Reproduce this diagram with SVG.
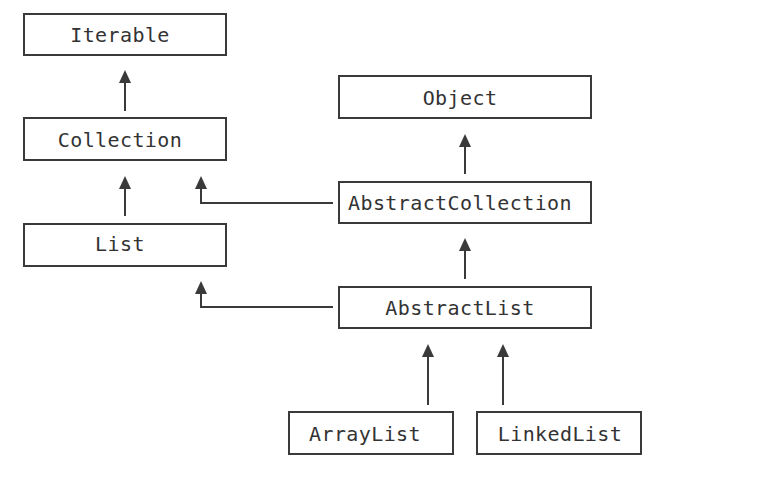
<svg xmlns="http://www.w3.org/2000/svg" width="765" height="481" viewBox="0 0 765 481">
<defs>
<style>
.box{fill:#fff;stroke:#3a3a3a;stroke-width:2}
.lbl{font-family:"DejaVu Sans Mono","Liberation Mono",monospace;font-size:20px;letter-spacing:0.4px;fill:#333;text-anchor:middle}
.edge{fill:none;stroke:#3a3a3a;stroke-width:2}
</style>
</defs>
<rect width="765" height="481" fill="#fff"/>
<g id="connectors">
<path class="edge" d="M125,111 V82"/>
<polygon points="125,70 119,83 131,83" fill="#3a3a3a"/>
<path class="edge" d="M125,216 V188"/>
<polygon points="125,176 119,189 131,189" fill="#3a3a3a"/>
<path class="edge" d="M333,203 H201 V188"/>
<polygon points="201,176 195,189 207,189" fill="#3a3a3a"/>
<path class="edge" d="M333,307 H201 V293"/>
<polygon points="201,281 195,294 207,294" fill="#3a3a3a"/>
<path class="edge" d="M465,174 V146"/>
<polygon points="465,134 459,147 471,147" fill="#3a3a3a"/>
<path class="edge" d="M465,279 V250"/>
<polygon points="465,238 459,251 471,251" fill="#3a3a3a"/>
<path class="edge" d="M428,405 V356"/>
<polygon points="428,344 422,357 434,357" fill="#3a3a3a"/>
<path class="edge" d="M503,405 V356"/>
<polygon points="503,344 497,357 509,357" fill="#3a3a3a"/>
</g>
<g id="Iterable"><rect class="box" x="24" y="14" width="202" height="41"/><text class="lbl" x="120" y="42">Iterable</text></g>
<g id="Collection"><rect class="box" x="24" y="118" width="202" height="42"/><text class="lbl" x="120" y="147">Collection</text></g>
<g id="List"><rect class="box" x="24" y="224" width="202" height="42"/><text class="lbl" x="120" y="251">List</text></g>
<g id="Object"><rect class="box" x="339" y="76" width="252" height="42"/><text class="lbl" x="460" y="105">Object</text></g>
<g id="AbstractCollection"><rect class="box" x="339" y="182" width="252" height="41"/><text class="lbl" x="460" y="210">AbstractCollection</text></g>
<g id="AbstractList"><rect class="box" x="339" y="287" width="252" height="41"/><text class="lbl" x="460" y="315">AbstractList</text></g>
<g id="ArrayList"><rect class="box" x="289" y="412" width="164" height="42"/><text class="lbl" x="365" y="441">ArrayList</text></g>
<g id="LinkedList"><rect class="box" x="477" y="412" width="164" height="42"/><text class="lbl" x="560" y="441">LinkedList</text></g>
</svg>
